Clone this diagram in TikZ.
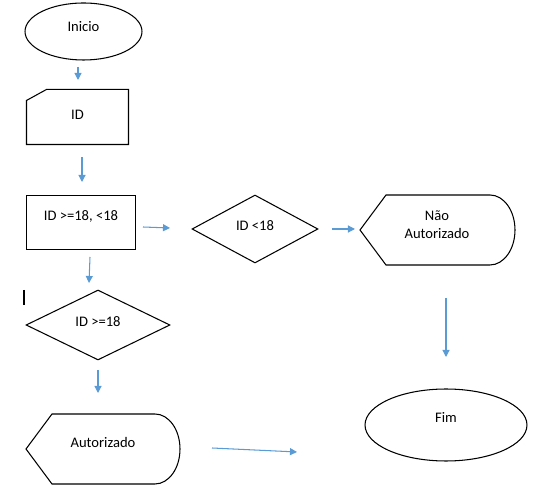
\documentclass[tikz,border=0pt]{standalone}
\usepackage{fontspec}
\setmainfont{Carlito}
\usetikzlibrary{shapes.geometric,arrows.meta,positioning,calc}
\definecolor{flowblue}{HTML}{5B9BD5}
\tikzset{
    base/.style={draw=black,line width=0.6pt,inner sep=0pt,align=center,font=\fontsize{8.3}{10.5}\selectfont},
    term/.style={base,ellipse},
    proc/.style={base,rectangle},
    dec/.style={base,diamond},
    area/.style={base,draw=none,rectangle},
    lift/.style={text depth=#1},
    flow/.style={draw=flowblue,line width=0.6pt,-{Triangle[length=4pt,width=4pt]}},
}

\begin{document}
\begin{tikzpicture}[x=0.02cm,y=-0.02cm]
    \useasboundingbox (0,0) rectangle (551,499);

    % shapes
    \node[term,lift=5.7pt,minimum width=2.34cm,minimum height=1.14cm] (inicio) at (83.5,31.5) {Inicio};
    \node[area,lift=2.3pt,minimum width=2.02cm,minimum height=1.08cm] (id) at (77.5,117) {ID};
    \draw[base] ([yshift=-0.22cm]id.north west) -- ([xshift=0.4cm]id.north west)
        -- (id.north east) -- (id.south east) -- (id.south west) -- cycle;
    \node[proc,lift=8.5pt,minimum width=2.18cm,minimum height=1.08cm] (teste) at (81,222.5) {ID >=18, <18};
    \node[dec,lift=3.4pt,minimum width=2.52cm,minimum height=1.36cm] (menor) at (255,229) {ID <18};
    \node[area] (nao) at (437,224.5) {Não\\Autorizado};
    \draw[base] ($(nao)+(-77,5.5)$) -- ($(nao)+(-51,-29.5)$) -- ($(nao)+(53,-29.5)$)
        arc[start angle=90,end angle=-90,x radius=0.5cm,y radius=0.7cm]
        -- ($(nao)+(-51,40.5)$) -- cycle;
    \node[dec,lift=3.4pt,minimum width=2.88cm,minimum height=1.4cm] (maior) at (98,325) {ID >=18};
    \node[area] (aut) at (103,442) {Autorizado};
    \draw[base] ($(aut)+(-77,7)$) -- ($(aut)+(-51,-28)$) -- ($(aut)+(52,-28)$)
        arc[start angle=90,end angle=-90,x radius=0.5cm,y radius=0.7cm]
        -- ($(aut)+(-51,42)$) -- cycle;
    \node[term,lift=8pt,minimum width=3.24cm,minimum height=1.44cm] (fim) at (446,425) {Fim};

    % cursor mark
    \draw[line width=0.7pt] (24,290) -- (24,305);

    % loose arrows
    \coordinate (a1) at (78,67);   \coordinate (b1) at (78,80);
    \coordinate (a2) at (82,157);  \coordinate (b2) at (82,182);
    \coordinate (a3) at (143,227); \coordinate (b3) at (170,228);
    \coordinate (a4) at (332,229); \coordinate (b4) at (355,229);
    \coordinate (a5) at (90,257);  \coordinate (b5) at (89,283);
    \coordinate (a6) at (98,370);  \coordinate (b6) at (98,393);
    \coordinate (a7) at (212,448); \coordinate (b7) at (297,452);
    \coordinate (a8) at (446,298); \coordinate (b8) at (446,357);
    \foreach \i in {1,...,8}
        \draw[flow] (a\i) -- (b\i);
\end{tikzpicture}
\end{document}
